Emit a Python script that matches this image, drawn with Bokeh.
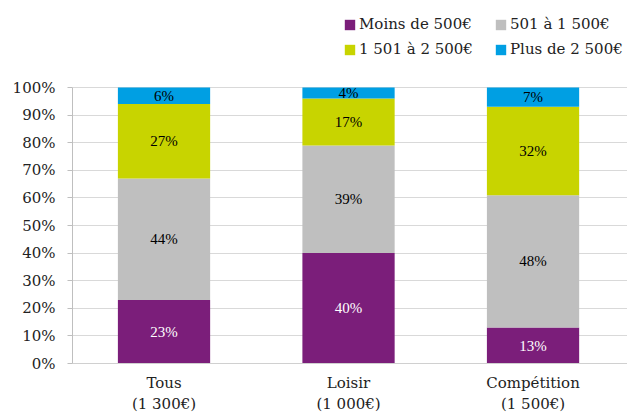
import numpy as np
from bokeh.plotting import figure
from bokeh.models import (ColumnDataSource, FixedTicker, PrintfTickFormatter,
                          Legend, LegendItem, Range1d, LinearAxis)
from bokeh.embed import file_html
from bokeh.resources import INLINE

categories = ["Tous", "Loisir", "Compétition"]
averages = ["(1 300€)", "(1 000€)", "(1 500€)"]
series = ["Moins de 500€", "501 à 1 500€", "1 501 à 2 500€", "Plus de 2 500€"]
moins_500 = [23, 40, 13]
de_501_1500 = [44, 39, 48]
de_1501_2500 = [27, 17, 32]
plus_2500 = [6, 4, 7]
y_ticks = [0, 10, 20, 30, 40, 50, 60, 70, 80, 90, 100]

colors = ["#7B1E7A", "#BFBFBF", "#C8D400", "#009FE3"]
label_colors = ["white", "black", "black", "black"]
FONT = "DejaVu Serif"

x = list(range(len(categories)))
values = [moins_500, de_501_1500, de_1501_2500, plus_2500]
keys = ["s0", "s1", "s2", "s3"]
data = {"x": x}
for k, v in zip(keys, values):
    data[k] = v
src = ColumnDataSource(data)

p = figure(width=627, height=414, output_backend="svg", toolbar_location=None,
           x_range=Range1d(-0.496, 2.512), y_range=Range1d(-18.478, 131.522),
           min_border_left=72, min_border_right=0, min_border_top=0,
           min_border_bottom=0, x_axis_location=None)
p.outline_line_color = None
p.background_fill_color = "white"
p.border_fill_color = "white"

renderers = p.vbar_stack(keys, x="x", width=0.5, source=src, color=colors,
                         line_color=None)

# segment labels
arr = np.array(values, dtype=float)
cum = np.cumsum(arr, axis=0)
mids = cum - arr / 2
for i in range(len(keys)):
    lsrc = ColumnDataSource(dict(x=x, y=list(mids[i]),
                                 t=[f"{v}%" for v in values[i]]))
    p.text(x="x", y="y", text="t", source=lsrc, text_align="center",
           text_baseline="middle", text_font_size="15px",
           text_color=label_colors[i], text_font=FONT)

# y axis
p.yaxis.ticker = FixedTicker(ticks=y_ticks)
p.yaxis.formatter = PrintfTickFormatter(format="%d%%")
p.yaxis.bounds = (0, 100)
p.yaxis.axis_line_color = "#BFBFBF"
p.yaxis.major_tick_line_color = "#BFBFBF"
p.yaxis.major_tick_out = 5
p.yaxis.major_tick_in = 0
p.yaxis.minor_tick_line_color = None
p.yaxis.major_label_standoff = 12
p.yaxis.major_label_text_font = FONT
p.yaxis.major_label_text_font_size = "15px"
p.yaxis.major_label_text_color = "#222222"

# x axis placed at y = 0 inside the frame
xax = LinearAxis(fixed_location=0)
xax.ticker = FixedTicker(ticks=x)
xax.major_label_overrides = {i: f"{c}\n{a}" for i, (c, a) in enumerate(zip(categories, averages))}
xax.axis_line_color = "#D0D0D0"
xax.major_tick_line_color = None
xax.minor_tick_line_color = None
xax.major_label_standoff = 4
xax.major_label_text_font = FONT
xax.major_label_text_font_size = "15px"
xax.major_label_text_color = "#222222"
p.add_layout(xax, "below")

p.xgrid.grid_line_color = None
p.ygrid.ticker = FixedTicker(ticks=y_ticks)
p.ygrid.grid_line_color = "#D9D9D9"

def make_legend(idx, loc):
    items = [LegendItem(label=series[i], renderers=[renderers[i]]) for i in idx]
    lg = Legend(items=items, location=loc, orientation="vertical",
                glyph_width=13, glyph_height=13, label_standoff=3,
                label_text_font=FONT, label_text_font_size="15px",
                label_text_color="#222222", label_height=20, spacing=5,
                padding=0, margin=0, border_line_color=None,
                background_fill_alpha=0)
    p.add_layout(lg, "center")

make_legend([0, 2], (271, 355))
make_legend([1, 3], (422, 355))

open("out.html", "w").write(file_html(p, INLINE))
